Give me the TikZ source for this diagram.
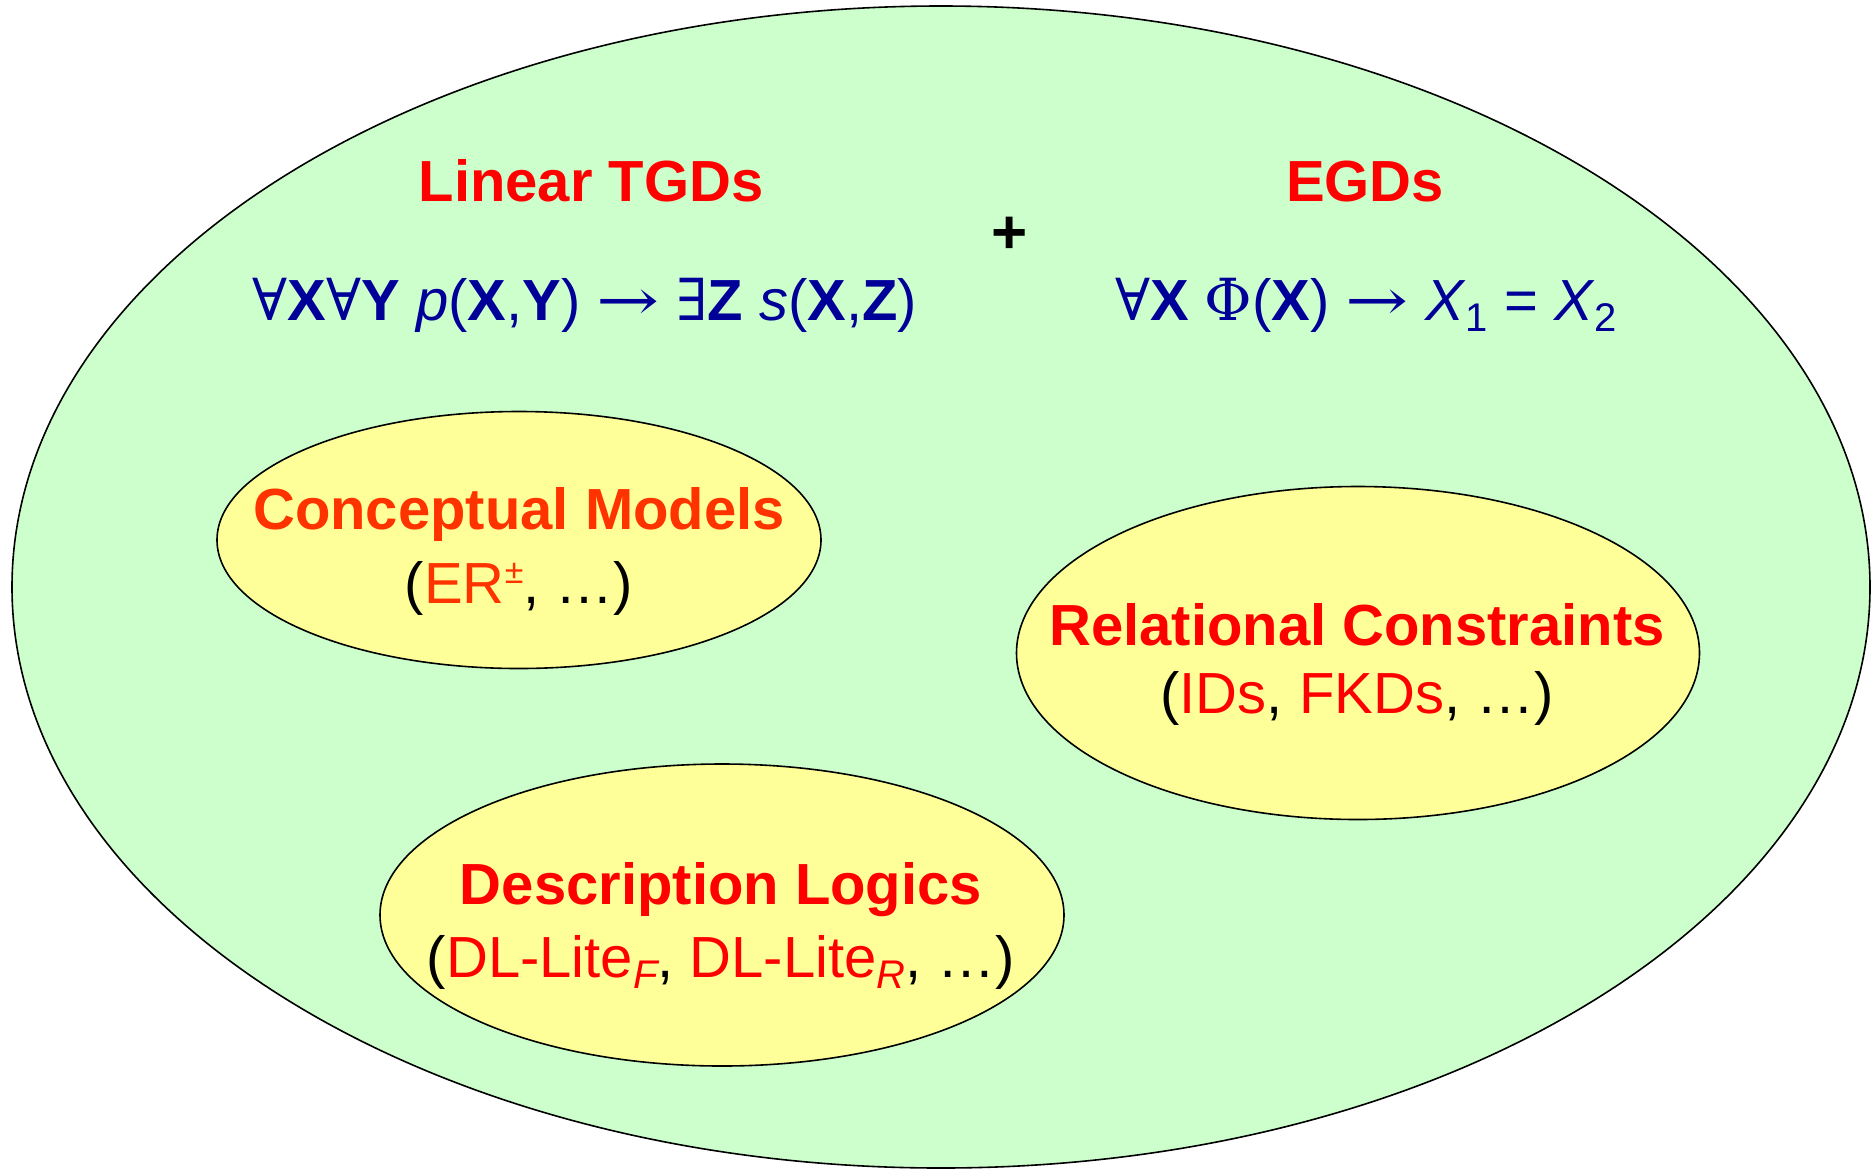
\documentclass[tikz,border=0pt]{standalone}
\usepackage{fontspec}
\usepackage{graphicx}
\setmainfont{Liberation Sans}
\newfontfamily\symf{DejaVu Serif}
\usetikzlibrary{shapes.geometric}
\definecolor{outergreen}{HTML}{CCFFCC}
\definecolor{inneryellow}{HTML}{FFFF99}
\definecolor{titlered}{HTML}{FF0000}
\definecolor{titleorange}{HTML}{FF3300}
\definecolor{formblue}{HTML}{000099}
\newcommand\lsub[1]{\raisebox{-0.2em}{\fontsize{40}{42}\selectfont #1}}
\newcommand\lsup[1]{\raisebox{0.33em}{\fontsize{34}{40}\selectfont #1}}
\newcommand\larr{{\symf\scalebox{1.3}[1]{→}}}
\tikzset{
  bigell/.style={ellipse, draw=black, line width=1.6pt, inner sep=0pt},
  ttl/.style={font=\fontsize{58}{70}\selectfont\bfseries, anchor=base, inner sep=0pt},
  txt/.style={font=\fontsize{58}{70}\selectfont, anchor=base, inner sep=0pt},
}
\begin{document}
\begin{tikzpicture}[x=1pt,y=-1pt]
\useasboundingbox (0,0) rectangle (1872,1171);
% outer region
\node[bigell, fill=outergreen, minimum width=1858pt, minimum height=1162pt] (outer) at (941,587) {};
% inner ellipses
\node[bigell, fill=inneryellow, minimum width=604pt, minimum height=257pt] (cm) at (519,540) {};
\node[bigell, fill=inneryellow, minimum width=683pt, minimum height=333pt] (rc) at (1358,653) {};
\node[bigell, fill=inneryellow, minimum width=684pt, minimum height=302pt] (dl) at (722,915) {};
% headers
\node[ttl, text=titlered] (lin) at (591,201) {Linear TGDs};
\node[ttl, text=titlered] (egd) at (1365,201) {EGDs};
\node[font=\fontsize{62}{70}\selectfont\bfseries, inner sep=0pt] (plus) at (1010,235) {+};
% formulas
\node[txt, text=formblue] (tgdf) at (585,320) {{\symf∀}\textbf{X}{\symf∀}\textbf{Y} \textit{p}(\textbf{X},\textbf{Y}) \larr{} {\symf∃}\textbf{Z} \textit{s}(\textbf{X},\textbf{Z})};
\node[txt, text=formblue] (egdf) at (1366,320) {{\symf∀}\textbf{X} {\symf Φ}(\textbf{X}) \larr{} \textit{X}\lsub{1} = \textit{X}\lsub{2}};
% inner texts
\node[ttl, text=titleorange] (cmt) at (519,529) {Conceptual Models};
\node[txt] (cms) at (519,603) {(\textcolor{titleorange}{ER\lsup{±}}, …)};
\node[ttl, text=titlered] (rct) at (1357,645) {Relational Constraints};
\node[txt] (rcs) at (1357,713) {(\textcolor{titlered}{IDs}, \textcolor{titlered}{FKDs}, …)};
\node[ttl, text=titlered] (dlt) at (721,904) {Description Logics};
\node[txt] (dls) at (721,977) {(\textcolor{titlered}{DL-Lite\lsub{\itshape F}}, \textcolor{titlered}{DL-Lite\lsub{\itshape R}}, …)};
\end{tikzpicture}
\end{document}
